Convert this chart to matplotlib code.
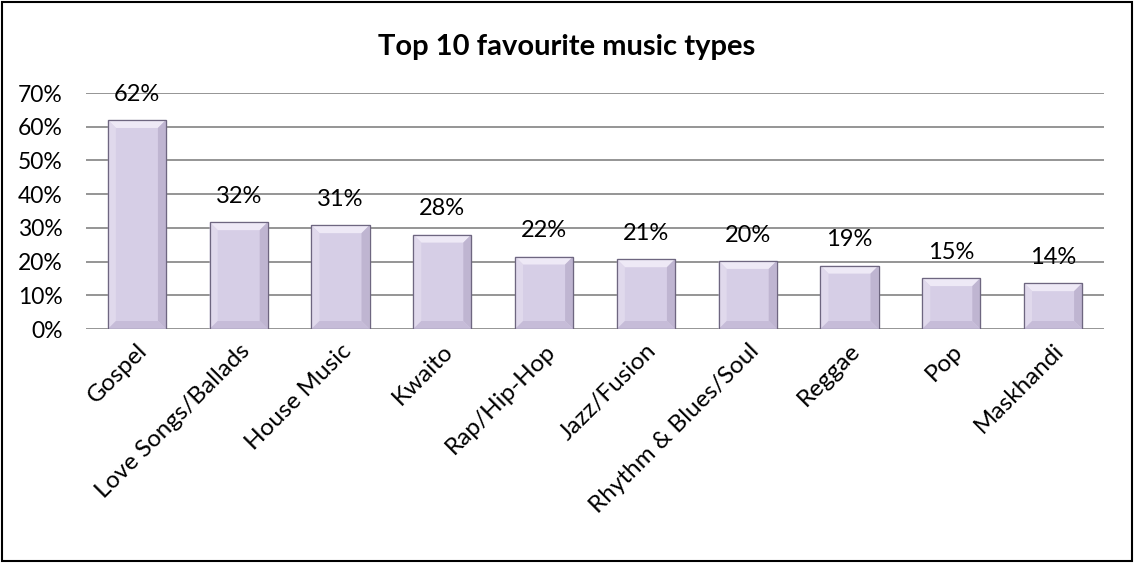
import numpy as np
import matplotlib.pyplot as plt
from matplotlib.patches import Polygon, Rectangle

plt.rcParams['font.family'] = ['Lato', 'DejaVu Sans']

# data
genres = ['Gospel', 'Love Songs/Ballads', 'House Music', 'Kwaito', 'Rap/Hip-Hop',
          'Jazz/Fusion', 'Rhythm & Blues/Soul', 'Reggae', 'Pop', 'Maskhandi']
shares = [0.62, 0.317, 0.308, 0.28, 0.215, 0.207, 0.202, 0.188, 0.151, 0.136]
labels = ['62%', '32%', '31%', '28%', '22%', '21%', '20%', '19%', '15%', '14%']
yticks = [0, 0.1, 0.2, 0.3, 0.4, 0.5, 0.6, 0.7]
title = 'Top 10 favourite music types'

W, H = 1134, 563
fig = plt.figure(figsize=(W / 100, H / 100), dpi=100)
ax = fig.add_axes([86 / W, 1 - 329 / H, (1104 - 86) / W, (329 - 93) / H])

x = np.arange(len(genres))
bars = ax.bar(x, shares, width=0.57, color='#D6CEE6', edgecolor='#7E7690', linewidth=0.8, zorder=3)

ax.set_xlim(-0.5, len(genres) - 0.5)
ax.set_ylim(0, 0.7)

# bevel look, sized in pixels
px_x = (len(genres)) / (1104 - 86)
px_y = 0.7 / (329 - 93)
b = 8
for p in bars:
    x0, y0, w, h = p.get_x(), p.get_y(), p.get_width(), p.get_height()
    dx, dy = b * px_x, min(b * px_y, h / 2)
    x1, y1 = x0 + w, y0 + h
    faces = [
        ([(x0, y1), (x1, y1), (x1 - dx, y1 - dy), (x0 + dx, y1 - dy)], '#EEE9F6'),
        ([(x0, y0), (x0, y1), (x0 + dx, y1 - dy), (x0 + dx, y0 + dy)], '#E0D9EC'),
        ([(x1, y0), (x1, y1), (x1 - dx, y1 - dy), (x1 - dx, y0 + dy)], '#BFB5D1'),
        ([(x0, y0), (x1, y0), (x1 - dx, y0 + dy), (x0 + dx, y0 + dy)], '#C6BCD8'),
    ]
    for pts, c in faces:
        ax.add_patch(Polygon(pts, closed=True, facecolor=c, edgecolor='none', zorder=4))
    ax.add_patch(Rectangle((x0, y0), w, h, fill=False, edgecolor='#6E6680', linewidth=0.9, zorder=5))

for xi, v, lab in zip(x, shares, labels):
    ax.annotate(lab, (xi, v), xytext=(0, 11), textcoords='offset points',
                ha='center', va='bottom', fontsize=17, color='black', zorder=6)

ax.set_yticks(yticks)
ax.set_yticklabels([f'{int(round(t * 100))}%' for t in yticks], fontsize=16.5)
ax.set_xticks(x)
ax.set_xticklabels(genres, rotation=45, ha='right', rotation_mode='anchor', fontsize=17.5)
ax.tick_params(axis='both', length=0)
ax.tick_params(axis='y', pad=17)
ax.tick_params(axis='x', pad=8)
ax.grid(axis='y', color='#8C8C8C', linewidth=1.3, zorder=0)
for s in ax.spines.values():
    s.set_visible(False)

fig.text(0.5, 1 - 47 / H, title, ha='center', va='center', fontsize=21, fontweight='bold')

fig.patches.append(Rectangle((2 / W, 2 / H), 1 - 4 / W, 1 - 4 / H, transform=fig.transFigure,
                             fill=False, edgecolor='black', linewidth=1.5))

fig.savefig('out.png', dpi=100)
